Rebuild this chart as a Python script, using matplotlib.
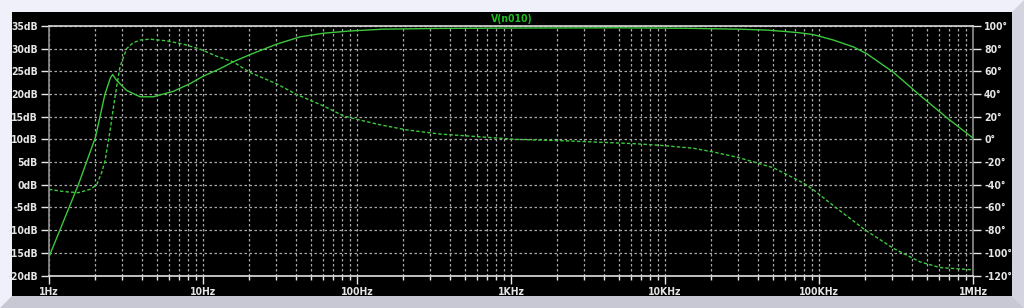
import numpy as np
import matplotlib
matplotlib.use("Agg")
import matplotlib.pyplot as plt
from matplotlib.patches import Polygon, Rectangle
from matplotlib.ticker import FixedLocator, NullFormatter

# magnitude of V(n010)
mag_freq = [1, 1.25, 1.55, 2.0, 2.31, 2.5, 2.59, 2.75, 3.19, 3.9, 4.76, 6.42, 8.24,
            10, 12.9, 15.7, 20.2, 30.1, 42.6, 60.4, 90, 147, 312, 1000, 5000,
            13800, 30000, 45700, 60000, 75000, 92000, 124000, 167000, 204000,
            304000, 453000, 675000, 1e6]
mag_db = [-15.9, -7.8, 0.0, 10.4, 20.0, 23.5, 24.3, 23.0, 20.8, 19.4, 19.4, 20.6, 22.3,
          23.9, 25.6, 27.1, 28.7, 31.0, 32.6, 33.4, 33.9, 34.3, 34.45, 34.55, 34.6,
          34.5, 34.3, 34.1, 33.8, 33.5, 33.1, 31.9, 30.4, 28.9,
          24.8, 19.7, 14.8, 10.3]

# phase of V(n010) in degrees
ph_freq = [1, 1.25, 1.55, 1.85, 2.04, 2.2, 2.31, 2.49, 2.68, 2.89, 3.19, 3.5, 3.9,
           4.52, 5.81, 7.45, 9.6, 12.3, 15.7, 20.2, 30.1, 40.6, 60.4, 81.5, 94.6,
           141, 210, 346, 599, 1089, 2300, 6200, 9300, 15300, 20600, 29200, 39400,
           50500, 64800, 79000, 91800, 130000, 199000, 304000, 453000, 611000, 1e6]
ph_deg = [-44, -46, -47, -44, -40, -29, -19, 7.6, 37, 64, 80, 85, 87.6,
          88.4, 86.9, 84, 79.5, 73.3, 68.4, 59, 49, 39.6, 29.6, 20.8, 18.5,
          12.9, 8.4, 4.7, 2.5, 0, -1.3, -3.7, -5.2, -7.8, -11.1, -15.6, -20.6,
          -25, -32.4, -38.4, -44.3, -60.6, -79.8, -96, -108, -113, -115]

x_ticks = [1, 10, 100, 1e3, 1e4, 1e5, 1e6]
x_labels = ["1Hz", "10Hz", "100Hz", "1KHz", "10KHz", "100KHz", "1MHz"]
db_ticks = list(range(-20, 40, 5))
deg_ticks = list(range(-120, 120, 20))

W, H = 1024, 308
fig = plt.figure(figsize=(W / 100, H / 100), dpi=100)
fig.patch.set_facecolor("#f0f0fa")

def fx(px):
    return px / W

def fy(py):
    return (H - py) / H

# window frame bevel + black panel (behind the axes)
fig.patches.append(Polygon([(fx(1012), fy(12)), (fx(1024), fy(0)), (fx(1024), fy(308)), (fx(1012), fy(296))],
                           closed=True, transform=fig.transFigure, facecolor="#d4d4e0", edgecolor="none", zorder=-10))
fig.patches.append(Polygon([(fx(0), fy(308)), (fx(12), fy(296)), (fx(1012), fy(296)), (fx(1024), fy(308))],
                           closed=True, transform=fig.transFigure, facecolor="#c8c8d4", edgecolor="none", zorder=-10))
fig.patches.append(Rectangle((fx(12), fy(296)), fx(1000), 284 / H, transform=fig.transFigure,
                             facecolor="black", edgecolor="none", zorder=-10))

ax = fig.add_axes([fx(49), fy(275.5), fx(973 - 49), (275.5 - 26) / H])
ax.set_facecolor("none")
ax.set_xscale("log")
ax.set_xlim(1, 1e6)
ax.set_ylim(-20, 35)

green = "#3cc83c"
grid_c = "#a8a8a8"
label_c = "#e6e6e6"
lab_font = dict(family="DejaVu Sans", stretch="condensed", weight="bold", size=7.5)

ax.xaxis.set_major_locator(FixedLocator(x_ticks))
ax.set_xticklabels(x_labels)
minor = [m * 10 ** d for d in range(6) for m in range(2, 10)]
ax.xaxis.set_minor_locator(FixedLocator(minor))
ax.xaxis.set_minor_formatter(NullFormatter())
ax.set_yticks(db_ticks)
ax.set_yticklabels([f"{v}dB" for v in db_ticks])

ax.tick_params(axis="both", which="major", colors=label_c, length=6, width=1, pad=2)
ax.tick_params(axis="x", which="minor", colors=label_c, length=3, width=1)
for lab in ax.get_xticklabels() + ax.get_yticklabels():
    lab.set_fontproperties(lab_font)

ax.grid(which="both", axis="x", color=grid_c, linestyle=(0, (2, 2)), linewidth=0.9)
ax.grid(which="major", axis="y", color=grid_c, linestyle=(0, (2, 2)), linewidth=0.9)

for side in ["left", "bottom", "right"]:
    ax.spines[side].set_color("#909090")
    ax.spines[side].set_linewidth(1.2)
ax.spines["top"].set_color("#d8d8d8")
ax.spines["top"].set_linewidth(1.2)
ax.spines["bottom"].set_color("#e0e0e0")

ax.plot(mag_freq, mag_db, color=green, linewidth=1.0, zorder=3)

ax2 = ax.twinx()
ax2.set_ylim(-120, 100)
ax2.set_yticks(deg_ticks)
ax2.set_yticklabels([f"{v}°" for v in deg_ticks])
ax2.tick_params(axis="y", colors=label_c, length=6, width=1, pad=2)
for lab in ax2.get_yticklabels():
    lab.set_fontproperties(lab_font)
for s in ax2.spines.values():
    s.set_visible(False)
ax2.plot(ph_freq, ph_deg, color=green, linewidth=1.0, linestyle=(0, (2.5, 1.5)), zorder=3)

fig.text(0.5, fy(18.5), "V(n010)", color="#20c020", fontsize=7.5, fontweight="bold",
         fontstretch="condensed", ha="center", va="center")

fig.savefig("out.png", dpi=100, facecolor=fig.get_facecolor())
